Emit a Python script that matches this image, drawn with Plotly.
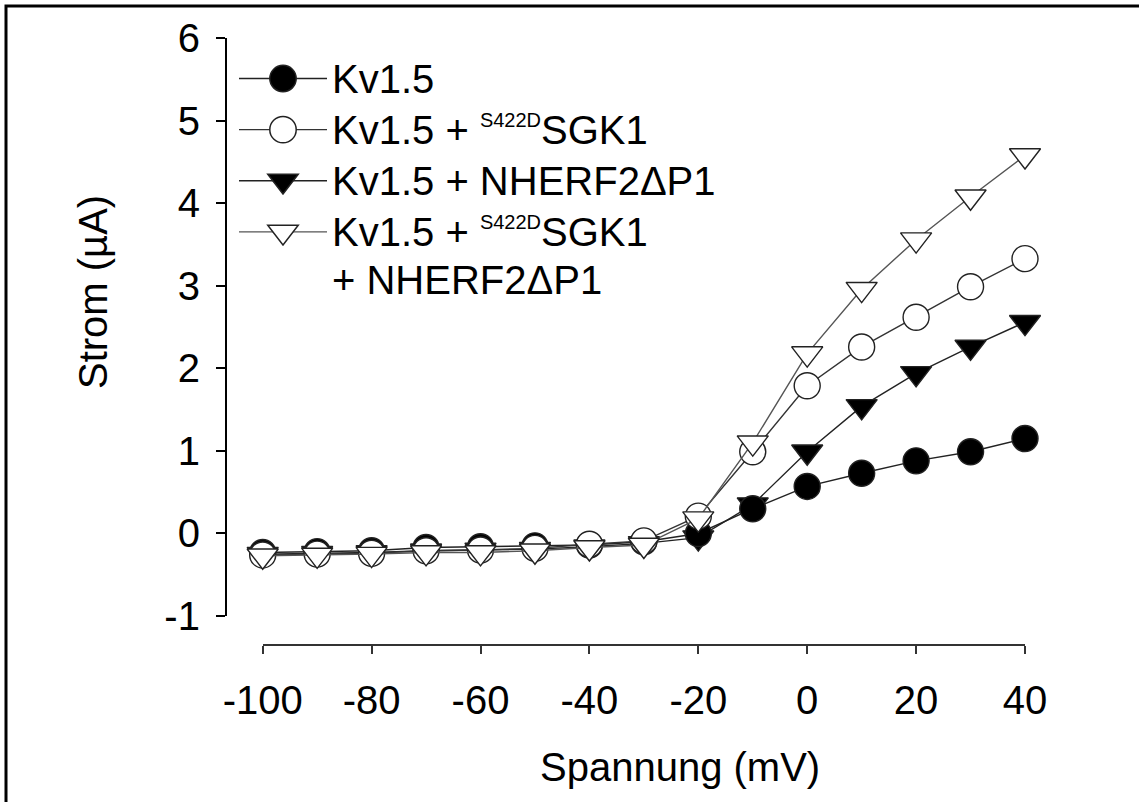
import plotly.graph_objects as go

# ---------------- data ----------------
voltage_mV = [-100, -90, -80, -70, -60, -50, -40, -30, -20, -10, 0, 10, 20, 30, 40]
kv15 = [-0.23, -0.22, -0.21, -0.17, -0.16, -0.15, -0.14, -0.10, 0.00, 0.30, 0.57, 0.73, 0.88, 0.99, 1.15]
kv15_sgk1 = [-0.26, -0.25, -0.24, -0.21, -0.20, -0.18, -0.13, -0.09, 0.21, 0.99, 1.79, 2.26, 2.62, 2.99, 3.33]
kv15_nherf2 = [-0.25, -0.24, -0.23, -0.21, -0.20, -0.19, -0.16, -0.12, -0.05, 0.35, 0.99, 1.54, 1.94, 2.26, 2.56]
kv15_sgk1_nherf2 = [-0.27, -0.26, -0.25, -0.23, -0.23, -0.21, -0.17, -0.14, 0.18, 1.10, 2.18, 2.96, 3.56, 4.08, 4.58]

x_tickvals = [-100, -80, -60, -40, -20, 0, 20, 40]
x_ticktext = ["-100", "-80", "-60", "-40", "-20", "0", "20", "40"]
y_tickvals = [-1, 0, 1, 2, 3, 4, 5, 6]
y_ticktext = ["-1", "0", "1", "2", "3", "4", "5", "6"]

SUP = "<sup><span style='font-size:20px'>S422D</span></sup>"
names = [
    "<span style='font-size:40px'>Kv1.5</span>",
    "<span style='font-size:40px'>Kv1.5 + " + SUP + "SGK1</span>",
    "<span style='font-size:40px'>Kv1.5 + NHERF2\u0394P1</span>",
    "<span style='font-size:40px'>Kv1.5 + " + SUP + "SGK1</span><br>"
    "<span style='font-size:40px'>+ NHERF2\u0394P1</span>",
]

# ---------------- figure geometry (pixels) ----------------
W, H = 1139, 802
FONT = "Liberation Sans, Arial, sans-serif"

def px_x(p):
    return p / W

def px_y(p):
    return 1 - p / H

fig = go.Figure()

# draw order: filled triangle, filled circle, open circle, open triangle
specs = [
    (kv15_nherf2, names[2], "triangle-down", "black", "#222222", 3),
    (kv15, names[0], "circle", "black", "#222222", 1),
    (kv15_sgk1, names[1], "circle", "white", "#333333", 2),
    (kv15_sgk1_nherf2, names[3], "triangle-down", "white", "#555555", 4),
]
for yvals, nm, sym, fill, lcol, rank in specs:
    fig.add_trace(go.Scatter(
        x=voltage_mV, y=yvals, name=nm, mode="lines+markers",
        line=dict(color=lcol, width=1.4),
        marker=dict(symbol=sym, size=26 if sym == "circle" else 27, color=fill,
                    line=dict(color="#222222", width=1.4)),
        cliponaxis=False, legendrank=rank,
    ))

fig.update_layout(
    width=W, height=H,
    margin=dict(l=0, r=0, t=0, b=0),
    paper_bgcolor="white", plot_bgcolor="rgba(0,0,0,0)",
    font=dict(family=FONT, size=40, color="black"),
    xaxis=dict(
        domain=[px_x(262.7), px_x(1025)], range=[-100, 40],
        anchor="free", position=px_y(645),
        showline=True, linecolor="#333333", linewidth=1.5,
        ticks="outside", ticklen=8, tickwidth=1.5, tickcolor="#333333",
        tickvals=x_tickvals, ticktext=x_ticktext,
        tickfont=dict(family=FONT, size=40, color="black"),
        ticklabelstandoff=12,
        showgrid=False, zeroline=False, automargin=False,
    ),
    yaxis=dict(
        domain=[px_y(616), px_y(38.3)], range=[-1, 6],
        anchor="free", position=px_x(225.7),
        showline=True, linecolor="black", linewidth=1.5,
        ticks="outside", ticklen=9, tickwidth=1.5, tickcolor="black",
        tickvals=y_tickvals, ticktext=y_ticktext,
        tickfont=dict(family=FONT, size=40, color="black"),
        ticklabelstandoff=8,
        showgrid=False, zeroline=False, automargin=False,
    ),
    showlegend=True,
    legend=dict(
        x=px_x(234), y=px_y(48), xanchor="left", yanchor="top",
        bgcolor="rgba(0,0,0,0)", borderwidth=0,
        font=dict(family=FONT, size=37, color="black"),
        itemwidth=88, valign="top", traceorder="normal",
        itemclick=False, itemdoubleclick=False,
    ),
    annotations=[
        dict(text="Spannung (mV)", xref="paper", yref="paper",
             x=px_x(680), y=px_y(767), xanchor="center", yanchor="middle",
             showarrow=False, font=dict(family=FONT, size=40, color="black")),
        dict(text="Strom (\u00b5A)", xref="paper", yref="paper", textangle=-90,
             x=px_x(93), y=px_y(292), xanchor="center", yanchor="middle",
             showarrow=False, font=dict(family=FONT, size=40, color="black")),
    ],
    shapes=[
        dict(type="rect", xref="paper", yref="paper",
             x0=px_x(6), x1=px_x(1150), y0=px_y(812), y1=px_y(6),
             line=dict(color="black", width=3), fillcolor="rgba(0,0,0,0)", layer="above"),
    ],
)

post = """
document.body.style.margin = '0';
document.body.style.padding = '0';
var gd = document.getElementById('{plot_id}');
function bigLegend(){
  document.querySelectorAll('.legend .legendpoints path.scatterpts').forEach(function(p){
    var t = p.getAttribute('transform') || '';
    if (t.indexOf('scale') < 0) { p.setAttribute('transform', t + ' scale(1.65)'); }
    p.style.strokeWidth = '0.9px';
  });
}
bigLegend();
if (gd && gd.on) { gd.on('plotly_afterplot', bigLegend); }
"""

fig.write_html("out.html", post_script=post, config={"displayModeBar": False})
